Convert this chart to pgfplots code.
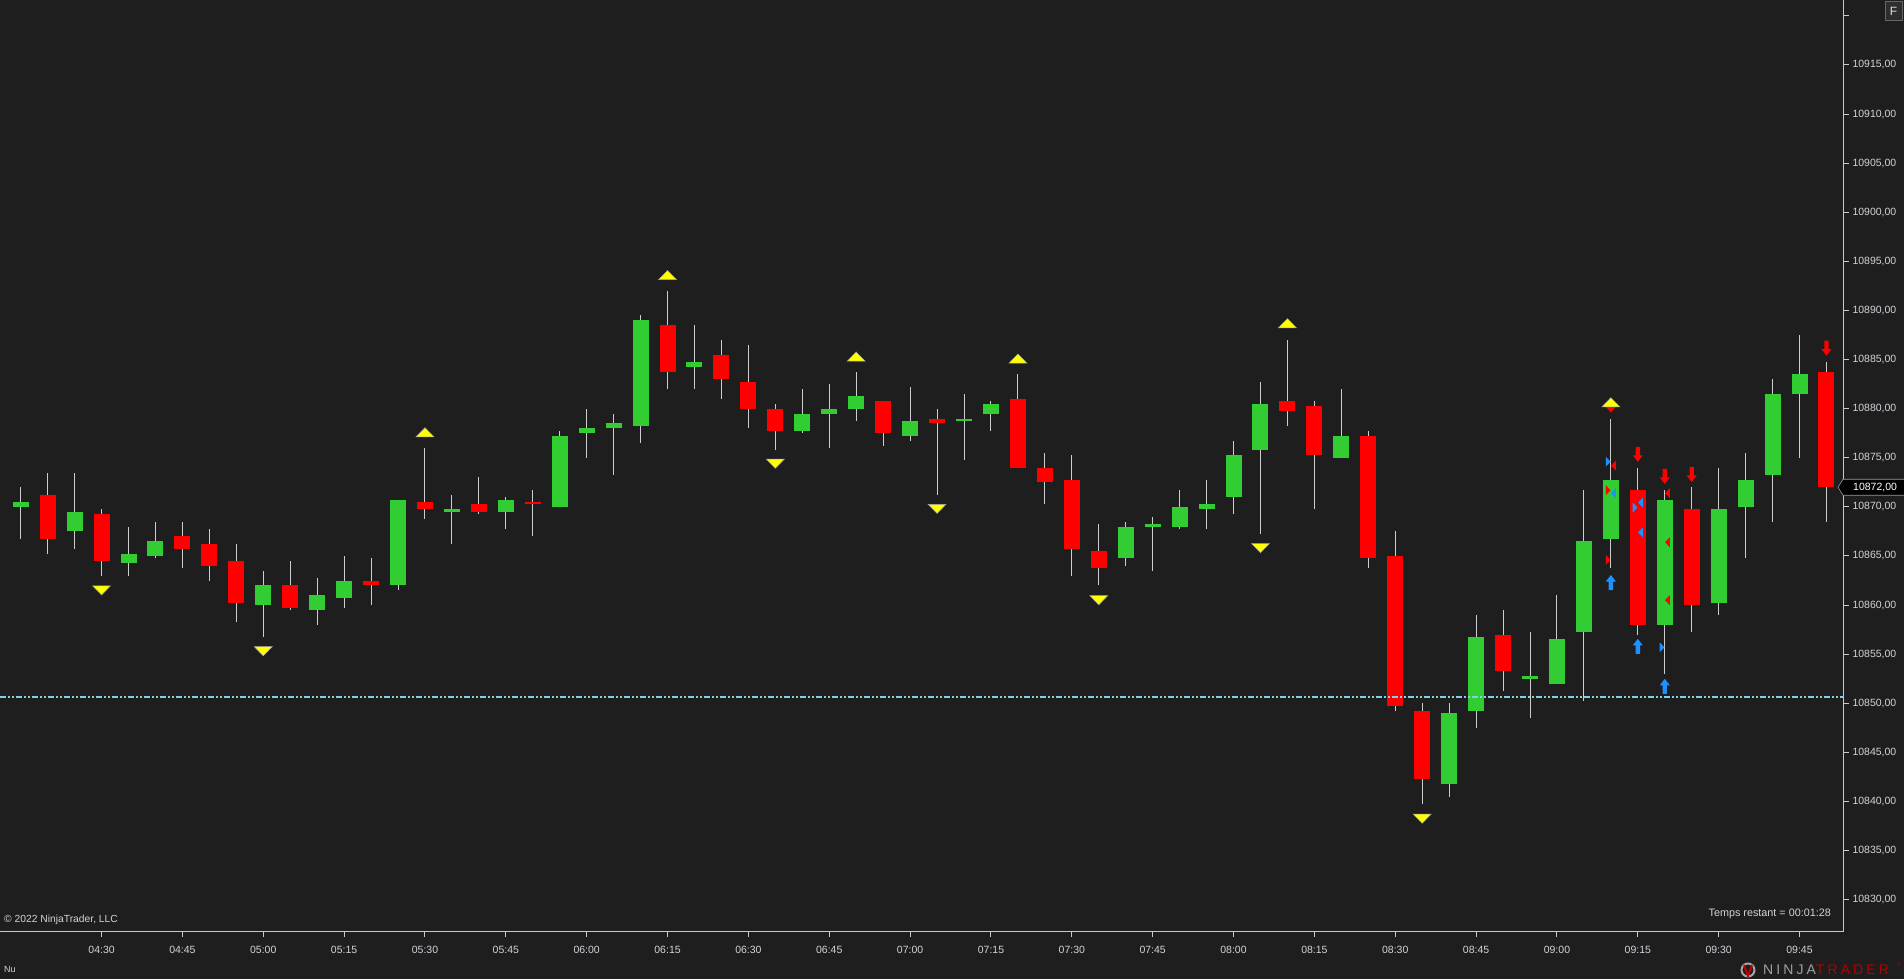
\documentclass[border=0pt]{standalone}
\usepackage{fontspec}
\setmainfont{Liberation Sans}
\usepackage{pgfplots}
\usepackage{pgfplotstable}
\pgfplotsset{compat=1.18}

\definecolor{bg}{RGB}{30,30,30}
\definecolor{upc}{RGB}{50,205,50}
\definecolor{dnc}{RGB}{255,0,0}
\definecolor{wick}{RGB}{205,205,205}
\definecolor{axcol}{RGB}{200,200,200}
\definecolor{lbl}{RGB}{208,212,218}
\definecolor{dotline}{RGB}{135,206,235}
\definecolor{sigyel}{RGB}{255,255,0}
\definecolor{arrblue}{RGB}{30,144,255}

% signal marks
\pgfdeclareplotmark{sigup}{%
  \pgfpathmoveto{\pgfqpoint{-9pt}{-4.6pt}}\pgfpathlineto{\pgfqpoint{9pt}{-4.6pt}}%
  \pgfpathlineto{\pgfqpoint{0pt}{4.6pt}}\pgfpathclose\pgfusepathqfillstroke}
\pgfdeclareplotmark{sigdn}{%
  \pgfpathmoveto{\pgfqpoint{-9pt}{4.6pt}}\pgfpathlineto{\pgfqpoint{9pt}{4.6pt}}%
  \pgfpathlineto{\pgfqpoint{0pt}{-4.6pt}}\pgfpathclose\pgfusepathqfillstroke}
\pgfdeclareplotmark{smalldn}{%
  \pgfpathmoveto{\pgfqpoint{-5pt}{3pt}}\pgfpathlineto{\pgfqpoint{5pt}{3pt}}%
  \pgfpathlineto{\pgfqpoint{0pt}{-3pt}}\pgfpathclose\pgfusepathqfill}
\pgfdeclareplotmark{arrup}{%
  \pgfpathmoveto{\pgfqpoint{0pt}{7.5pt}}\pgfpathlineto{\pgfqpoint{5pt}{1pt}}%
  \pgfpathlineto{\pgfqpoint{2.2pt}{1pt}}\pgfpathlineto{\pgfqpoint{2.2pt}{-7.5pt}}%
  \pgfpathlineto{\pgfqpoint{-2.2pt}{-7.5pt}}\pgfpathlineto{\pgfqpoint{-2.2pt}{1pt}}%
  \pgfpathlineto{\pgfqpoint{-5pt}{1pt}}\pgfpathclose\pgfusepathqfill}
\pgfdeclareplotmark{arrdn}{%
  \pgfpathmoveto{\pgfqpoint{0pt}{-7.5pt}}\pgfpathlineto{\pgfqpoint{5pt}{-1pt}}%
  \pgfpathlineto{\pgfqpoint{2.2pt}{-1pt}}\pgfpathlineto{\pgfqpoint{2.2pt}{7.5pt}}%
  \pgfpathlineto{\pgfqpoint{-2.2pt}{7.5pt}}\pgfpathlineto{\pgfqpoint{-2.2pt}{-1pt}}%
  \pgfpathlineto{\pgfqpoint{-5pt}{-1pt}}\pgfpathclose\pgfusepathqfill}
\pgfdeclareplotmark{triright}{%
  \pgfpathmoveto{\pgfqpoint{-2.4pt}{-5pt}}\pgfpathlineto{\pgfqpoint{2.4pt}{0pt}}%
  \pgfpathlineto{\pgfqpoint{-2.4pt}{5pt}}\pgfpathclose\pgfusepathqfill}
\pgfdeclareplotmark{trileft}{%
  \pgfpathmoveto{\pgfqpoint{2.4pt}{-5pt}}\pgfpathlineto{\pgfqpoint{-2.4pt}{0pt}}%
  \pgfpathlineto{\pgfqpoint{2.4pt}{5pt}}\pgfpathclose\pgfusepathqfill}

% 5-minute bars, i = 0 is 04:15
\pgfplotstableread{
i O H L C
0 10870.0 10872.0 10866.75 10870.5
2 10867.5 10873.5 10865.75 10869.5
4 10864.25 10868.0 10863.0 10865.25
5 10865.0 10868.5 10864.75 10866.5
9 10860.0 10863.5 10856.75 10862.0
11 10859.5 10862.75 10858.0 10861.0
12 10860.75 10865.0 10859.75 10862.5
14 10862.0 10870.75 10861.5 10870.75
16 10869.5 10871.25 10866.25 10869.75
18 10869.5 10871.0 10867.75 10870.75
20 10870.0 10877.75 10870.0 10877.25
21 10877.5 10880.0 10875.0 10878.0
22 10878.0 10879.5 10873.25 10878.5
23 10878.25 10889.5 10876.5 10889.0
25 10884.25 10888.5 10882.0 10884.75
29 10877.75 10882.0 10877.5 10879.5
30 10879.5 10882.5 10876.0 10880.0
31 10880.0 10883.75 10878.75 10881.25
33 10877.25 10882.25 10876.75 10878.75
35 10878.75 10881.5 10874.75 10879.0
36 10879.5 10880.75 10877.75 10880.5
41 10864.75 10868.5 10864.0 10868.0
42 10868.0 10869.0 10863.5 10868.25
43 10868.0 10871.75 10867.75 10870.0
44 10869.75 10872.75 10867.75 10870.25
45 10871.0 10876.75 10869.25 10875.25
46 10875.75 10882.75 10867.25 10880.5
49 10875.0 10882.0 10875.0 10877.25
53 10841.75 10850.0 10840.5 10849.0
54 10849.25 10859.0 10847.5 10856.75
56 10852.5 10857.25 10848.5 10852.75
57 10852.0 10861.0 10852.0 10856.5
58 10857.25 10871.75 10850.25 10866.5
59 10866.75 10879.0 10863.75 10872.75
61 10858.0 10871.75 10853.0 10870.75
63 10860.25 10874.0 10859.0 10869.75
64 10870.0 10875.5 10864.75 10872.75
65 10873.25 10883.0 10868.5 10881.5
66 10881.5 10887.5 10875.0 10883.5
}\upbars
\pgfplotstableread{
i O H L C
1 10871.25 10873.5 10865.25 10866.75
3 10869.25 10869.75 10863.0 10864.5
6 10867.0 10868.5 10863.75 10865.75
7 10866.25 10867.75 10862.5 10864.0
8 10864.5 10866.25 10858.25 10860.25
10 10862.0 10864.5 10859.5 10859.75
13 10862.5 10864.75 10860.0 10862.0
15 10870.5 10876.0 10868.75 10869.75
17 10870.25 10873.0 10869.25 10869.5
19 10870.5 10871.75 10867.0 10870.25
24 10888.5 10892.0 10882.0 10883.75
26 10885.5 10887.0 10881.0 10883.0
27 10882.75 10886.5 10878.0 10880.0
28 10880.0 10880.5 10875.75 10877.75
32 10880.75 10880.75 10876.25 10877.5
34 10879.0 10880.0 10871.25 10878.5
37 10881.0 10883.5 10874.0 10874.0
38 10874.0 10875.5 10870.25 10872.5
39 10872.75 10875.25 10863.0 10865.75
40 10865.5 10868.25 10862.0 10863.75
47 10880.75 10887.0 10878.25 10879.75
48 10880.25 10880.75 10869.75 10875.25
50 10877.25 10877.75 10863.75 10864.75
51 10865.0 10867.5 10849.25 10849.75
52 10849.25 10850.0 10839.75 10842.25
55 10857.0 10859.5 10851.25 10853.25
60 10871.75 10874.0 10857.0 10858.0
62 10869.75 10872.0 10857.25 10860.0
67 10883.75 10884.75 10868.5 10872.0
}\dnbars

\begin{document}
\begin{tikzpicture}
\fill[bg] (0,0) rectangle (1904pt,979pt);
\useasboundingbox (0,0) rectangle (1904pt,979pt);
\begin{axis}[
  at={(0pt,47pt)}, anchor=south west,
  scale only axis, width=1844pt, height=932pt,
  xmin=-0.768, xmax=67.65, ymin=10826.71, ymax=10921.62,
  axis x line=bottom, axis y line=right,
  axis line style={-, draw=axcol, line width=1pt},
  tick align=outside, major tick length=5pt,
  tick style={draw=axcol, line width=1pt},
  xtick={3,6,...,66},
  xticklabels={04:30,04:45,05:00,05:15,05:30,05:45,06:00,06:15,06:30,06:45,07:00,07:15,07:30,07:45,08:00,08:15,08:30,08:45,09:00,09:15,09:30,09:45},
  ytick={10830,10835,...,10915},
  extra y ticks={10920}, extra y tick labels={},
  scaled y ticks=false,
  tick label style={color=lbl, font=\fontsize{10.5}{12}\selectfont},
  xticklabel style={yshift=-6pt},
  yticklabel style={/pgf/number format/.cd, fixed, fixed zerofill, precision=2, use comma, 1000 sep={}, assume math mode=true},
  clip=false,
  candle/.style={draw=none, mark=none, forget plot, error bars/.cd, y dir=plus, y explicit, error mark=none,
    error bar style={draw=#1}},
]
% wicks
\addplot[candle={wick, line width=1pt}]
  table[x=i, y=L, y error expr=\thisrow{H}-\thisrow{L}] {\upbars};
\addplot[candle={wick, line width=1pt}]
  table[x=i, y=L, y error expr=\thisrow{H}-\thisrow{L}] {\dnbars};
% bodies
\addplot[candle={upc, line width=16pt}]
  table[x=i, y=O, y error expr=\thisrow{C}-\thisrow{O}] {\upbars};
\addplot[candle={dnc, line width=16pt}]
  table[x=i, y=C, y error expr=\thisrow{O}-\thisrow{C}] {\dnbars};
% previous-day line
\addplot[dotline, line width=2pt, dash pattern=on 6pt off 2pt on 2pt off 2pt on 2pt off 2pt, forget plot]
  coordinates {(-0.768,10850.67) (67.65,10850.67)};
% signals
\addplot[only marks, mark=smalldn, color=dnc] coordinates {(59,10879.9)};
\addplot[only marks, mark=sigdn, mark options={fill=sigyel, draw=gray!70, line width=0.5pt}]
  coordinates {(3,10861.5) (9,10855.3) (28,10874.4) (34,10869.8) (40,10860.5) (46,10865.8) (52,10838.25)};
\addplot[only marks, mark=sigup, mark options={fill=sigyel, draw=gray!70, line width=0.5pt}]
  coordinates {(15,10877.6) (24,10893.6) (31,10885.3) (37,10885.1) (47,10888.7) (59,10880.65)};
\addplot[only marks, mark=arrdn, color=dnc]
  coordinates {(60,10875.36) (61,10873.1) (62,10873.3) (67,10886.17)};
\addplot[only marks, mark=arrup, color=arrblue]
  coordinates {(59,10862.3) (60,10855.8) (61,10851.73)};
\addplot[only marks, mark=triright, color=arrblue]
  coordinates {(58.9,10874.6) (59.9,10869.93) (60.9,10855.7)};
\addplot[only marks, mark=triright, color=dnc]
  coordinates {(58.9,10871.7) (58.9,10864.6)};
\addplot[only marks, mark=trileft, color=dnc]
  coordinates {(59.1,10874.2) (61.1,10871.4) (61.1,10866.4) (61.1,10860.5)};
\addplot[only marks, mark=trileft, color=arrblue]
  coordinates {(59.1,10871.4) (60.1,10870.44) (60.1,10867.4)};
\coordinate (pl) at (axis cs:67.65,10872);
\end{axis}
% last price tag
\filldraw[fill=black, draw=gray!80, line width=0.6pt] ([xshift=-6pt]pl) -- ++(5pt,8pt) -- ++(70pt,0) -- ++(0,-16pt) -- ++(-70pt,0) -- cycle;
\node[anchor=west, inner sep=0pt, text=white, font=\fontsize{10.5}{12}\selectfont] at ([xshift=9pt]pl) {10872,00};
% chart texts
\node[anchor=base west, inner sep=0pt, text=lbl, font=\fontsize{10.3}{12}\selectfont] at (4pt,56pt) {© 2022 NinjaTrader, LLC};
\node[anchor=base east, inner sep=0pt, text=lbl, font=\fontsize{10.8}{12}\selectfont] at (1831pt,62.5pt) {Temps restant = 00:01:28};
\node[anchor=base west, inner sep=0pt, text=lbl, font=\fontsize{9}{10}\selectfont] at (4pt,6.7pt) {Nu};
\filldraw[fill=black!82, draw=black!60, line width=1pt] (1885pt,958pt) rectangle (1902pt,977pt);
\node[text=lbl!80, font=\fontsize{12}{14}\selectfont] at (1893.5pt,967.5pt) {F};
% logo
\draw[gray!70, line width=2pt] (1748pt,9pt) circle (6.5pt);
\draw[red!75!black, line width=2pt] (1744pt,14pt) -- (1748pt,3pt) -- (1752pt,14pt);
\node[anchor=base west, inner sep=0pt, font=\fontsize{14}{16}\selectfont\addfontfeature{LetterSpace=22}] at (1763pt,4pt)
  {\textcolor{gray!75}{NINJA}\textcolor{red!70!black}{TRADER}};
\node[anchor=base west, inner sep=0pt, text=red!70!black, font=\fontsize{5}{6}\selectfont] at (1897pt,12pt) {®};
\end{tikzpicture}
\end{document}
